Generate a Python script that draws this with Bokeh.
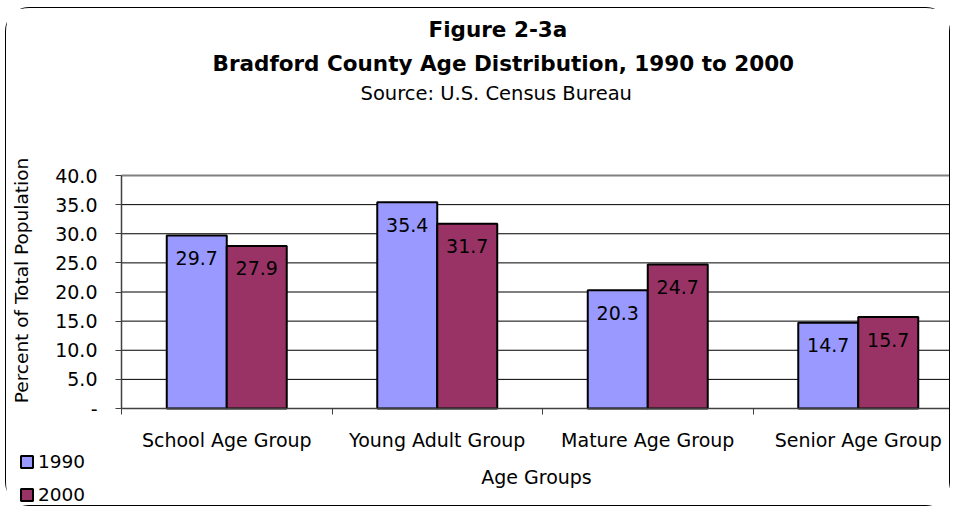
from bokeh.plotting import figure
from bokeh.models import Range1d, FixedTicker, Legend, LegendItem, Title, LinearAxis
from bokeh.core.properties import value
from bokeh.embed import file_html
from bokeh.resources import INLINE
import numpy as np

# ---- data ----
categories = ["School Age Group", "Young Adult Group", "Mature Age Group", "Senior Age Group"]
series_names = ["1990", "2000"]
values_1990 = [29.7, 35.4, 20.3, 14.7]
values_2000 = [27.9, 31.7, 24.7, 15.7]
y_tick_values = [0, 5, 10, 15, 20, 25, 30, 35, 40]
y_tick_labels = ["-", "5.0", "10.0", "15.0", "20.0", "25.0", "30.0", "35.0", "40.0"]

title_1 = "Figure 2-3a"
title_2 = "Bradford County Age Distribution, 1990 to 2000"
title_3 = "Source: U.S. Census Bureau"
x_axis_title = "Age Groups"
y_axis_title = "Percent of Total Population"

# ---- styling / geometry (pixels) ----
FONT = "DejaVu Sans"
C1990 = "#9999FF"
C2000 = "#993366"
AXIS_C = "#404040"
BAR_W = 0.285
W, H = 945, 499
TOP = 98            # frame top (below the titles)
X0_PX = 115         # where x = 0 sits
Y0_PX = 400         # where y = 0 sits
Y40_PX = 167        # where y = 40 sits
CAT_PX = 210.5
Y_MAX = max(y_tick_values)
py = (Y0_PX - Y40_PX) / Y_MAX

n = len(categories)
x_start = -X0_PX / CAT_PX
x_end = (W - X0_PX) / CAT_PX
y_end = Y_MAX + (Y40_PX - TOP) / py
y_start = -(H - Y0_PX) / py

centers = np.arange(n) + 0.5
x1990 = centers - BAR_W / 2
x2000 = centers + BAR_W / 2

p = figure(width=W, height=H, output_backend="svg", toolbar_location=None,
           x_range=Range1d(x_start, x_end), y_range=Range1d(y_start, y_end),
           x_axis_location=None, y_axis_location=None,
           min_border_left=0, min_border_right=0,
           min_border_top=TOP, min_border_bottom=0,
           background_fill_color="white", border_fill_color="white",
           outline_line_color=None,
           styles={"margin-left": "5px", "margin-top": "7px",
                   "border": "1px solid #000", "border-radius": "24px",
                   "background": "white"})
for g in p.grid:
    g.visible = False
    g.grid_line_color = None

# titles (first added is closest to the frame)
t3 = Title(text=title_3, align="left", offset=354, standoff=4,
           text_font=FONT, text_font_size="19.5px", text_font_style="normal",
           text_color="black")
t2 = Title(text=title_2, align="left", offset=206, standoff=3,
           text_font=FONT, text_font_size="21.5px", text_font_style="bold",
           text_color="black")
t1 = Title(text=title_1, align="left", offset=422, standoff=12,
           text_font=FONT, text_font_size="21.5px", text_font_style="bold",
           text_color="black")
p.add_layout(t3, "above")
p.add_layout(t2, "above")
p.add_layout(t1, "above")

# horizontal gridlines (plot area 0..n categories)
inner_ticks = y_tick_values[1:-1]
p.segment(x0=[0] * len(inner_ticks), x1=[n] * len(inner_ticks),
          y0=inner_ticks, y1=inner_ticks, line_color="black", line_width=1)
p.segment(x0=[0], x1=[n], y0=[Y_MAX], y1=[Y_MAX], line_color="#808080", line_width=2)
# value-axis line (0..40)
p.segment(x0=[0], x1=[0], y0=[0], y1=[Y_MAX], line_color=AXIS_C, line_width=1.5)

# bars
r1 = p.vbar(x=x1990, top=values_1990, bottom=0, width=BAR_W,
            fill_color=C1990, line_color="black", line_width=2)
r2 = p.vbar(x=x2000, top=values_2000, bottom=0, width=BAR_W,
            fill_color=C2000, line_color="black", line_width=2)

# data labels
for xs, vals in ((x1990, values_1990), (x2000, values_2000)):
    p.text(x=xs, y=vals, text=[f"{v:.1f}" for v in vals],
           text_align="center", text_baseline="middle", y_offset=22.5,
           text_font=value(FONT), text_font_size="19px", text_color="black")

# y axis (fixed at x = 0); bounds chosen so the title sits where the reference has it
yax = LinearAxis(fixed_location=0, bounds=(0, 44))
yax.ticker = FixedTicker(ticks=y_tick_values)
yax.major_label_overrides = {float(v): s for v, s in zip(y_tick_values, y_tick_labels)}
yax.major_tick_out = 6
yax.major_tick_in = 0
yax.minor_tick_line_color = None
yax.major_tick_line_color = AXIS_C
yax.axis_line_color = None
yax.major_label_standoff = 18
yax.major_label_text_font = FONT
yax.major_label_text_font_size = "19px"
yax.major_label_text_color = "black"
yax.axis_label = y_axis_title
yax.axis_label_text_font = FONT
yax.axis_label_text_font_size = "18.5px"
yax.axis_label_text_font_style = "normal"
yax.axis_label_text_color = "black"
yax.axis_label_standoff = 20
p.add_layout(yax, "left")

# x axis (fixed at y = 0)
xax = LinearAxis(fixed_location=0, bounds=(0, n))
xax.ticker = FixedTicker(ticks=list(centers), minor_ticks=list(np.arange(n).astype(float)))
xax.major_label_overrides = {float(c): lab for c, lab in zip(centers, categories)}
xax.major_tick_out = 0
xax.major_tick_in = 0
xax.major_tick_line_color = None
xax.minor_tick_out = 6
xax.minor_tick_in = 0
xax.minor_tick_line_color = AXIS_C
xax.axis_line_color = AXIS_C
xax.axis_line_width = 1.5
xax.major_label_standoff = 14
xax.major_label_text_font = FONT
xax.major_label_text_font_size = "19px"
xax.major_label_text_color = "black"
xax.axis_label = x_axis_title
xax.axis_label_text_font = FONT
xax.axis_label_text_font_size = "19px"
xax.axis_label_text_font_style = "normal"
xax.axis_label_text_color = "black"
xax.axis_label_standoff = 12
p.add_layout(xax, "below")

# legend
legend = Legend(items=[LegendItem(label=series_names[0], renderers=[r1]),
                       LegendItem(label=series_names[1], renderers=[r2])],
                location=(13, 2), orientation="vertical",
                glyph_width=15, glyph_height=15, label_standoff=4,
                spacing=12, padding=0, margin=0, label_height=21,
                border_line_color=None, background_fill_alpha=0,
                label_text_font=FONT, label_text_font_size="18.5px",
                label_text_color="black")
p.add_layout(legend)

open("out.html", "w").write(file_html(p, INLINE))
